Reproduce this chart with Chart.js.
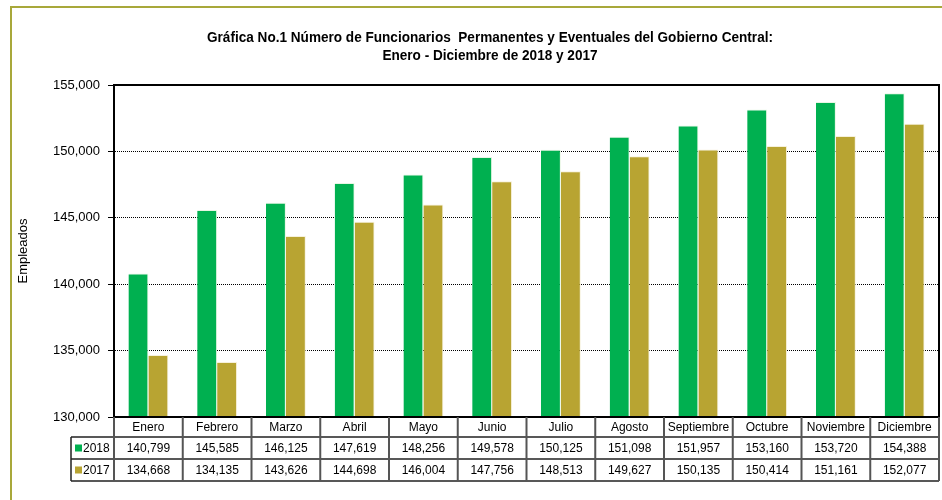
<!DOCTYPE html>
<html>
<head>
<meta charset="utf-8">
<script src="https://cdn.jsdelivr.net/npm/chart.js@4"></script>
<style>
  html, body { margin: 0; padding: 0; background: #fff; }
  #wrap { position: relative; width: 942px; height: 500px; }
  #marco { position: absolute; left: 10px; top: 6px; right: -4px; bottom: -4px; border-top: 2px solid #a8a83a; border-left: 2px solid #a8a83a; }
  canvas { position: absolute; left: 0; top: 0; }
</style>
</head>
<body>
<div id="wrap">
  <div id="marco"></div>
  <canvas id="grafico" width="942" height="500"></canvas>
</div>
<script>
// Datos de la gráfica
const meses = ['Enero', 'Febrero', 'Marzo', 'Abril', 'Mayo', 'Junio', 'Julio', 'Agosto', 'Septiembre', 'Octubre', 'Noviembre', 'Diciembre'];
const empleados2018 = [140799, 145585, 146125, 147619, 148256, 149578, 150125, 151098, 151957, 153160, 153720, 154388];
const empleados2017 = [134668, 134135, 143626, 144698, 146004, 147756, 148513, 149627, 150135, 150414, 151161, 152077];
const titulo = ['Gráfica No.1 Número de Funcionarios  Permanentes y Eventuales del Gobierno Central:', 'Enero - Diciembre de 2018 y 2017'];

const verde = '#00b050';
const oliva = '#b8a432';
const fmt = v => v.toLocaleString('en-US');
const fuenteTabla = '12px "Liberation Sans", Arial, sans-serif';

// Título y tabla de datos debajo del área de la gráfica
const tablaPlugin = {
  id: 'tablaDatos',
  afterDraw(chart) {
    const ctx = chart.ctx;
    const area = chart.chartArea;
    const xs = chart.scales.x;
    const ancho = xs.width / meses.length;

    ctx.save();
    // título (un poco condensado, como la fuente narrow del original)
    ctx.save();
    ctx.translate(490, 0);
    ctx.scale(0.97, 1);
    ctx.fillStyle = '#000';
    ctx.textAlign = 'center';
    ctx.textBaseline = 'middle';
    ctx.font = 'bold 14px "Liberation Sans Narrow", "Arial Narrow", "Liberation Sans", sans-serif';
    ctx.fillText(titulo[0], 0, 38);
    ctx.fillText(titulo[1], 0, 56);
    ctx.restore();

    // borde del área
    ctx.strokeStyle = '#000';
    ctx.lineWidth = 2;
    ctx.strokeRect(area.left, area.top, area.right - area.left, area.bottom - area.top);

    const y0 = area.bottom;
    const filas = [y0, y0 + 20, y0 + 42, y0 + 64];
    const izq = 71;

    // líneas horizontales
    ctx.lineWidth = 1.5;
    ctx.strokeStyle = '#222';
    ctx.beginPath();
    ctx.moveTo(izq, filas[1]); ctx.lineTo(area.right, filas[1]);
    ctx.moveTo(izq, filas[2]); ctx.lineTo(area.right, filas[2]);
    ctx.moveTo(izq, filas[3]); ctx.lineTo(area.right, filas[3]);
    ctx.moveTo(izq, filas[1]); ctx.lineTo(izq, filas[3]);
    ctx.stroke();

    // líneas verticales entre meses
    ctx.strokeStyle = '#555';
    ctx.lineWidth = 2;
    ctx.beginPath();
    for (let i = 0; i <= meses.length; i++) {
      const x = xs.getPixelForValue(i) - ancho / 2;
      ctx.moveTo(x, filas[0]);
      ctx.lineTo(x, filas[3]);
    }
    ctx.stroke();

    // textos
    ctx.font = fuenteTabla;
    ctx.fillStyle = '#000';
    ctx.textAlign = 'center';
    ctx.textBaseline = 'middle';
    meses.forEach((m, i) => {
      const x = xs.getPixelForValue(i);
      ctx.fillText(m, x, (filas[0] + filas[1]) / 2 + 1);
      ctx.fillText(fmt(empleados2018[i]), x, (filas[1] + filas[2]) / 2 + 1);
      ctx.fillText(fmt(empleados2017[i]), x, (filas[2] + filas[3]) / 2 + 1);
    });

    // leyenda dentro de la tabla
    const series = [['2018', verde], ['2017', oliva]];
    series.forEach((s, k) => {
      const yc = (filas[k + 1] + filas[k + 2]) / 2;
      ctx.fillStyle = s[1];
      ctx.fillRect(75, yc - 3.5, 7, 7);
      ctx.fillStyle = '#000';
      ctx.textAlign = 'left';
      ctx.fillText(s[0], 83, yc + 1);
    });
    ctx.restore();
  }
};

const ctx = document.getElementById('grafico').getContext('2d');
const chart = new Chart(ctx, {
  type: 'bar',
  data: {
    labels: meses,
    datasets: [
      {
        label: '2018',
        data: empleados2018,
        backgroundColor: verde,
        borderColor: 'rgba(230,245,225,0.9)',
        borderWidth: { top: 1, right: 1, left: 0, bottom: 0 },
        categoryPercentage: 0.58,
        barPercentage: 1
      },
      {
        label: '2017',
        data: empleados2017,
        backgroundColor: oliva,
        borderColor: 'rgba(245,240,215,0.9)',
        borderWidth: { top: 1, right: 1, left: 0, bottom: 0 },
        categoryPercentage: 0.58,
        barPercentage: 1
      }
    ]
  },
  options: {
    responsive: false,
    animation: false,
    layout: { padding: { left: 14, right: 3, top: 85, bottom: 83 } },
    plugins: {
      legend: { display: false },
      title: { display: false },
      tooltip: { enabled: false }
    },
    scales: {
      x: { display: false },
      y: {
        min: 130000,
        max: 155000,
        afterFit(scale) { scale.width = 100; },
        ticks: {
          stepSize: 5000,
          color: '#000',
          padding: 8,
          font: { family: '"Liberation Sans", Arial, sans-serif', size: 13 },
          callback: v => fmt(v)
        },
        grid: {
          color: '#000',
          lineWidth: 1,
          tickLength: 6,
          tickBorderDash: [],
          tickColor: '#000'
        },
        border: { display: true, color: '#000', width: 2, dash: [1, 1] },
        title: {
          display: true,
          text: 'Empleados',
          color: '#000',
          padding: { top: 2, bottom: 0 },
          font: { family: '"Liberation Sans", Arial, sans-serif', size: 13 }
        }
      }
    }
  },
  plugins: [tablaPlugin]
});
</script>
</body>
</html>
